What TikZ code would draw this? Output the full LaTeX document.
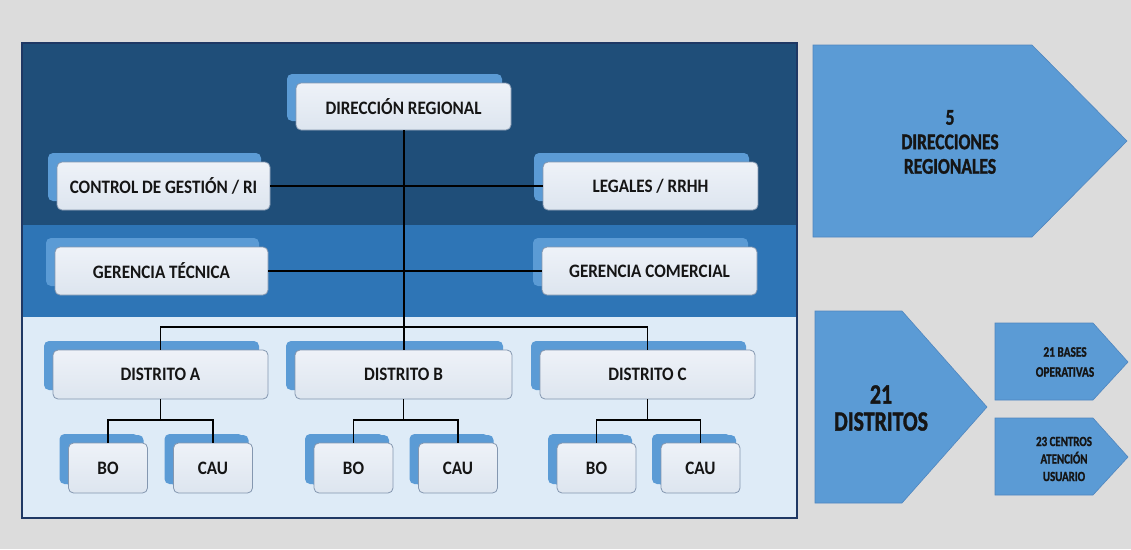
\documentclass[tikz,border=0pt]{standalone}
\usepackage{fontspec}
\newfontfamily\cf{Carlito}[FakeStretch=0.9]
\newfontfamily\cfn{Carlito}[FakeStretch=0.78, BoldFeatures={FakeBold=1.2}]
\usetikzlibrary{shadows,calc}
\definecolor{bgc}{HTML}{DCDCDC}
\definecolor{darkband}{HTML}{1F4E79}
\definecolor{midband}{HTML}{2E75B6}
\definecolor{lightband}{HTML}{DEEBF7}
\definecolor{framec}{HTML}{1F3864}
\definecolor{shblue}{HTML}{5B9BD5}
\definecolor{arrowedge}{HTML}{4F86BF}
\definecolor{boxtop}{HTML}{EEF2F8}
\definecolor{boxbot}{HTML}{DDE5EF}
\definecolor{boxedge}{HTML}{8497B0}
\definecolor{txt}{HTML}{151515}
\tikzset{
  orgbox/.style={draw=boxedge, line width=0.8pt, rounded corners=5pt,
    top color=boxtop, bottom color=boxbot, text=txt,
    font=\cf\bfseries\fontsize{19}{21}\selectfont, inner sep=0pt,
    general shadow={shadow xshift=-9pt, shadow yshift=9pt, fill=shblue, draw=none}},
  bigbox/.style={orgbox, minimum width=214pt, minimum height=48pt},
  smallbox/.style={orgbox, minimum width=79pt, minimum height=50pt,
    general shadow={shadow xshift=-4pt, shadow yshift=8pt, fill=shblue, draw=none}},
  link/.style={draw=black, line width=1.2pt},
  trunk/.style={draw=black, line width=2pt},
  arrowshape/.style={fill=shblue, draw=arrowedge, line width=0.6pt},
  arrowtext/.style={align=center, text=txt, inner sep=0pt}
}
\begin{document}
\begin{tikzpicture}[x=1pt, y=-1pt]
\useasboundingbox (0,0) rectangle (1131,549);
\fill[bgc] (0,0) rectangle (1131,549);
% bands
\fill[darkband] (22,43) rectangle (797,225);
\fill[midband] (22,225) rectangle (797,317);
\fill[lightband] (22,317) rectangle (797,518);
\draw[framec, line width=1.5pt] (22,43) rectangle (797,518);

% coordinates for connectors
\coordinate (bus) at (403.5,327);
\coordinate (ja) at (160.5,420);
\coordinate (jb) at (403.5,420);
\coordinate (jc) at (647.5,420);

% boxes
\node[bigbox, minimum width=215pt, minimum height=47pt] (dr) at (403.5,106.5) {DIRECCIÓN REGIONAL};
\node[bigbox, minimum width=213pt] (cg) at (163.5,186) {CONTROL DE GESTIÓN / RI};
\node[bigbox, minimum width=215pt] (lg) at (650.5,186) {LEGALES / RRHH};
\node[bigbox, minimum width=213pt] (gt) at (161.5,271) {GERENCIA TÉCNICA};
\node[bigbox, minimum width=215pt] (gc) at (649.5,271) {GERENCIA COMERCIAL};

\node[bigbox, minimum width=215pt, minimum height=49pt] (da) at (160.5,374.5) {DISTRITO A};
\node[bigbox, minimum width=217pt, minimum height=49pt] (db) at (403.5,374.5) {DISTRITO B};
\node[bigbox, minimum width=215pt, minimum height=49pt] (dc) at (647.5,374.5) {DISTRITO C};

\node[smallbox] (boa) at (108,468) {BO};
\node[smallbox] (caua) at (213,468) {CAU};
\node[smallbox] (bob) at (353.5,468) {BO};
\node[smallbox] (caub) at (458,468) {CAU};
\node[smallbox] (boc) at (596.5,468) {BO};
\node[smallbox] (cauc) at (700.5,468) {CAU};

% connectors
\draw[link] (cg.east) -- (lg.west);
\draw[link] (gt.east) -- (gc.west);
\draw[trunk] (dr.south) -- (db.north);
\draw[link] (da.north) |- (bus) -| (dc.north);
\draw[link] (da.south) -- (ja);
\draw[link] (boa.north) |- (ja) -| (caua.north);
\draw[link] (db.south) -- (jb);
\draw[link] (bob.north) |- (jb) -| (caub.north);
\draw[link] (dc.south) -- (jc);
\draw[link] (boc.north) |- (jc) -| (cauc.north);

% right-hand arrows
\draw[arrowshape] (813,45) -- (1032,45) -- (1127,141) -- (1032,237) -- (813,237) -- cycle;
\node[arrowtext, font=\cfn\bfseries\fontsize{22.5}{24.5}\selectfont] (t1) at (950,142) {5\\DIRECCIONES\\REGIONALES};

\draw[arrowshape] (815,311) -- (902,311) -- (987,407) -- (902,503) -- (815,503) -- cycle;
\node[arrowtext, font=\cfn\bfseries\fontsize{28}{27}\selectfont] (t2) at (881,408) {21\\DISTRITOS};

\draw[arrowshape] (995,323) -- (1093,323) -- (1128,362) -- (1093,400) -- (995,400) -- cycle;
\node[arrowtext, font=\cfn\bfseries\fontsize{14.5}{20}\selectfont] (t3) at (1065,362) {21 BASES\\OPERATIVAS};

\draw[arrowshape] (995,418) -- (1093,418) -- (1128,457) -- (1093,495) -- (995,495) -- cycle;
\node[arrowtext, font=\cfn\bfseries\fontsize{14}{17.5}\selectfont] (t4) at (1064,459) {23 CENTROS\\ATENCIÓN\\USUARIO};
\end{tikzpicture}
\end{document}
